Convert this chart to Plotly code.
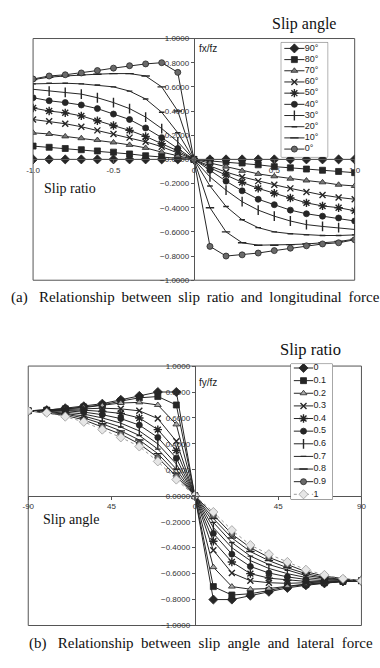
import plotly.graph_objects as go

# ---------------- data: (a) slip ratio vs longitudinal force ----------------
SLIP_RATIO = [-1.0, -0.9, -0.8, -0.7, -0.6, -0.5, -0.4, -0.3, -0.2, -0.1, 0.0,
              0.1, 0.2, 0.3, 0.4, 0.5, 0.6, 0.7, 0.8, 0.9, 1.0]
ANGLE_NAMES = ["90°", "80°", "70°", "60°", "50°", "40°", "30°", "20°", "10°", "0°"]

FX_90 = [0.0, 0.0, 0.0, 0.0, 0.0, 0.0, 0.0, 0.0, 0.0, 0.0, 0.0,
         0.0, 0.0, 0.0, 0.0, 0.0, 0.0, 0.0, 0.0, 0.0, 0.0]
FX_80 = [0.11, 0.10, 0.09, 0.08, 0.07, 0.06, 0.045, 0.03, 0.02, 0.01, 0.0,
         -0.01, -0.02, -0.03, -0.045, -0.06, -0.07, -0.08, -0.09, -0.10, -0.11]
FX_70 = [0.22, 0.21, 0.19, 0.175, 0.16, 0.14, 0.12, 0.095, 0.06, 0.03, 0.0,
         -0.03, -0.06, -0.095, -0.12, -0.14, -0.16, -0.175, -0.19, -0.21, -0.22]
FX_60 = [0.33, 0.315, 0.295, 0.27, 0.24, 0.21, 0.18, 0.145, 0.105, 0.055, 0.0,
         -0.055, -0.105, -0.145, -0.18, -0.21, -0.24, -0.27, -0.295, -0.315, -0.33]
FX_50 = [0.425, 0.40, 0.385, 0.36, 0.32, 0.28, 0.24, 0.19, 0.13, 0.07, 0.0,
         -0.07, -0.13, -0.19, -0.24, -0.28, -0.32, -0.36, -0.385, -0.40, -0.425]
FX_40 = [0.51, 0.485, 0.47, 0.45, 0.42, 0.375, 0.33, 0.26, 0.18, 0.09, 0.0,
         -0.09, -0.18, -0.26, -0.33, -0.375, -0.42, -0.45, -0.47, -0.485, -0.51]
FX_30 = [0.58, 0.565, 0.555, 0.54, 0.51, 0.47, 0.42, 0.35, 0.255, 0.145, 0.0,
         -0.145, -0.255, -0.35, -0.42, -0.47, -0.51, -0.54, -0.555, -0.565, -0.58]
FX_20 = [0.625, 0.63, 0.63, 0.625, 0.615, 0.60, 0.565, 0.50, 0.39, 0.22, 0.0,
         -0.22, -0.39, -0.50, -0.565, -0.60, -0.615, -0.625, -0.63, -0.63, -0.625]
FX_10 = [0.66, 0.68, 0.69, 0.70, 0.705, 0.71, 0.71, 0.69, 0.60, 0.40, 0.0,
         -0.40, -0.60, -0.69, -0.71, -0.71, -0.705, -0.70, -0.69, -0.68, -0.66]
FX_0 = [0.665, 0.69, 0.70, 0.715, 0.735, 0.755, 0.775, 0.79, 0.80, 0.72, 0.0,
        -0.72, -0.80, -0.79, -0.775, -0.755, -0.735, -0.715, -0.70, -0.69, -0.665]
FX_SERIES = [FX_90, FX_80, FX_70, FX_60, FX_50, FX_40, FX_30, FX_20, FX_10, FX_0]

X_TICKS_A = [-1.0, -0.5, 0.0, 0.5, 1.0]
X_TICKTEXT_A = ["-1.0", "-0.5", "0", "0.5", "1.0"]

# ---------------- data: (b) slip angle vs lateral force ----------------
SLIP_ANGLE = [-90, -80, -70, -60, -50, -40, -30, -20, -10, 0,
              10, 20, 30, 40, 50, 60, 70, 80, 90]
RATIO_NAMES = ["0", "0.1", "0.2", "0.3", "0.4", "0.5", "0.6", "0.7", "0.8", "0.9", "1"]

FY_00 = [0.655, 0.66, 0.675, 0.69, 0.71, 0.74, 0.77, 0.80, 0.80, 0.0,
         -0.80, -0.80, -0.77, -0.74, -0.71, -0.69, -0.675, -0.66, -0.655]
FY_01 = [0.655, 0.66, 0.67, 0.685, 0.70, 0.73, 0.755, 0.765, 0.70, 0.0,
         -0.70, -0.765, -0.755, -0.73, -0.70, -0.685, -0.67, -0.66, -0.655]
FY_02 = [0.655, 0.66, 0.67, 0.68, 0.695, 0.715, 0.72, 0.70, 0.55, 0.0,
         -0.55, -0.70, -0.72, -0.715, -0.695, -0.68, -0.67, -0.66, -0.655]
FY_03 = [0.655, 0.66, 0.665, 0.67, 0.675, 0.67, 0.655, 0.595, 0.42, 0.0,
         -0.42, -0.595, -0.655, -0.67, -0.675, -0.67, -0.665, -0.66, -0.655]
FY_04 = [0.655, 0.655, 0.66, 0.66, 0.65, 0.635, 0.60, 0.51, 0.35, 0.0,
         -0.35, -0.51, -0.60, -0.635, -0.65, -0.66, -0.66, -0.655, -0.655]
FY_05 = [0.655, 0.655, 0.655, 0.645, 0.625, 0.595, 0.545, 0.45, 0.29, 0.0,
         -0.29, -0.45, -0.545, -0.595, -0.625, -0.645, -0.655, -0.655, -0.655]
FY_06 = [0.655, 0.65, 0.645, 0.63, 0.60, 0.56, 0.50, 0.40, 0.245, 0.0,
         -0.245, -0.40, -0.50, -0.56, -0.60, -0.63, -0.645, -0.65, -0.655]
FY_07 = [0.655, 0.65, 0.635, 0.615, 0.575, 0.53, 0.465, 0.36, 0.205, 0.0,
         -0.205, -0.36, -0.465, -0.53, -0.575, -0.615, -0.635, -0.65, -0.655]
FY_08 = [0.655, 0.645, 0.63, 0.60, 0.555, 0.50, 0.43, 0.325, 0.175, 0.0,
         -0.175, -0.325, -0.43, -0.50, -0.555, -0.60, -0.63, -0.645, -0.655]
FY_09 = [0.655, 0.64, 0.62, 0.585, 0.53, 0.475, 0.40, 0.295, 0.15, 0.0,
         -0.15, -0.295, -0.40, -0.475, -0.53, -0.585, -0.62, -0.64, -0.655]
FY_10 = [0.655, 0.64, 0.61, 0.57, 0.51, 0.45, 0.38, 0.265, 0.125, 0.0,
         -0.125, -0.265, -0.38, -0.45, -0.51, -0.57, -0.61, -0.64, -0.655]
FY_SERIES = [FY_00, FY_01, FY_02, FY_03, FY_04, FY_05, FY_06, FY_07, FY_08, FY_09, FY_10]

X_TICKS_B = [-90, -45, 0, 45, 90]
X_TICKTEXT_B = ["-90", "45", "0", "45", "90"]

# ---------------- styles ----------------
INK = "#262626"
STYLE_A = [  # symbol, size, fill, dash
    ("diamond", 7, INK, "solid"),
    ("square", 6, INK, "solid"),
    ("triangle-up", 6, "#7a7a7a", "solid"),
    ("x-thin", 6, INK, "solid"),
    ("asterisk", 7, INK, "solid"),
    ("circle", 6, INK, "solid"),
    ("line-ns", 7, INK, "solid"),
    ("line-ew", 4, INK, "solid"),
    ("line-ew", 6, INK, "solid"),
    ("circle", 6, "#6a6a6a", "solid"),
]
STYLE_B = [
    ("diamond", 7, INK, "solid"),
    ("square", 6, INK, "solid"),
    ("triangle-up", 6, "#a8a8a8", "solid"),
    ("x-thin", 6, INK, "solid"),
    ("asterisk", 7, INK, "solid"),
    ("circle", 6, INK, "solid"),
    ("line-ns", 7, INK, "solid"),
    ("line-ew", 4, INK, "solid"),
    ("line-ew", 6, INK, "solid"),
    ("circle", 6, "#6a6a6a", "solid"),
    ("diamond", 7, "#e6e6e6", "dot"),
]

W, H = 380, 668


def px_x(p):
    return p / W


def px_y(p):
    return 1 - p / H


def marker_of(st):
    sym, size, fill, dash = st
    thin = sym in ("x-thin", "asterisk", "line-ns", "line-ew")
    lc = "#9a9a9a" if dash == "dot" else INK
    return dict(symbol=sym, size=size, color=fill,
                line=dict(color=lc, width=1.4 if thin else 0.8))


def line_of(st):
    dash = st[3]
    return dict(color="#9a9a9a" if dash == "dot" else INK, width=1.0, dash=dash)


fig = go.Figure()

# domains
XA = [px_x(27), px_x(360)]
YA = [px_y(280), px_y(35)]
XB = [px_x(22), px_x(367)]
YB = [px_y(630), px_y(367)]
LEG_A_X = [px_x(284), px_x(332)]
LEG_A_Y = [px_y(155), px_y(39)]
LEG_B_X = [px_x(294), px_x(337)]
LEG_B_Y = [px_y(502), px_y(365)]

for name, vals, st in zip(ANGLE_NAMES, FX_SERIES, STYLE_A):
    fig.add_trace(go.Scatter(x=SLIP_RATIO, y=vals, mode="lines+markers", name=name,
                             xaxis="x", yaxis="y", line=line_of(st), marker=marker_of(st),
                             showlegend=False))

for name, vals, st in zip(RATIO_NAMES, FY_SERIES, STYLE_B):
    fig.add_trace(go.Scatter(x=SLIP_ANGLE, y=vals, mode="lines+markers", name=name,
                             xaxis="x2", yaxis="y2", line=line_of(st), marker=marker_of(st),
                             showlegend=False))


# custom legends (index-based rows)
def add_legend(names, styles, xa, ya):
    for i, (name, st) in enumerate(zip(names, styles)):
        fig.add_trace(go.Scatter(x=[0, 1], y=[i, i], mode="lines", xaxis=xa, yaxis=ya,
                                 line=line_of(st), showlegend=False, hoverinfo="skip"))
        fig.add_trace(go.Scatter(x=[0.5], y=[i], mode="markers", xaxis=xa, yaxis=ya,
                                 marker=marker_of(st), showlegend=False, hoverinfo="skip"))
    fig.add_trace(go.Scatter(x=[1.02] * len(names), y=list(range(len(names))), mode="text",
                             text=names, textposition="middle right", xaxis=xa, yaxis=ya,
                             textfont=dict(family="Liberation Sans", size=9, color="#222"),
                             showlegend=False, hoverinfo="skip"))


add_legend(ANGLE_NAMES, STYLE_A, "x3", "y3")
add_legend(RATIO_NAMES, STYLE_B, "x4", "y4")

tickfont = dict(family="Liberation Sans", size=8, color="#333")
axline = "#555"

fig.update_layout(
    width=W, height=H, margin=dict(l=0, r=0, t=0, b=0),
    paper_bgcolor="white", plot_bgcolor="white", showlegend=False,
    xaxis=dict(domain=XA, range=[-1, 1], anchor="free", position=(YA[0] + YA[1]) / 2,
               showline=True, linecolor=axline, linewidth=1, ticks="outside", ticklen=3,
               tickcolor=axline, tickvals=X_TICKS_A, ticktext=X_TICKTEXT_A,
               tickfont=tickfont, showgrid=False, zeroline=False),
    yaxis=dict(domain=YA, range=[-1, 1], anchor="free", position=(XA[0] + XA[1]) / 2,
               showline=True, linecolor=axline, linewidth=1.2, ticks="outside", ticklen=3,
               tickcolor=axline, dtick=0.2, tick0=0, tickformat=".4f",
               tickfont=tickfont, showgrid=False, zeroline=False),
    xaxis2=dict(domain=XB, range=[-90, 90], anchor="free", position=(YB[0] + YB[1]) / 2,
                showline=True, linecolor=axline, linewidth=1, ticks="outside", ticklen=3,
                tickcolor=axline, tickvals=X_TICKS_B, ticktext=X_TICKTEXT_B,
                tickfont=tickfont, showgrid=False, zeroline=False),
    yaxis2=dict(domain=YB, range=[-1, 1], anchor="free", position=(XB[0] + XB[1]) / 2,
                showline=True, linecolor=axline, linewidth=1.2, ticks="outside", ticklen=3,
                tickcolor=axline, dtick=0.2, tick0=0, tickformat=".4f",
                tickfont=tickfont, showgrid=False, zeroline=False),
    xaxis3=dict(domain=LEG_A_X, range=[-0.15, 2.15], anchor="y3", visible=False),
    yaxis3=dict(domain=LEG_A_Y, range=[9.7, -0.53], anchor="x3", visible=False),
    xaxis4=dict(domain=LEG_B_X, range=[-0.15, 2.0], anchor="y4", visible=False),
    yaxis4=dict(domain=LEG_B_Y, range=[10.39, -0.31], anchor="x4", visible=False),
)

frame = dict(color="#555", width=1)
for xr, yr in (("x domain", "y domain"), ("x2 domain", "y2 domain"),
               ("x3 domain", "y3 domain"), ("x4 domain", "y4 domain")):
    fig.add_shape(type="rect", xref=xr, yref=yr, x0=0, x1=1, y0=0, y1=1,
                  line=frame, fillcolor="rgba(0,0,0,0)", layer="below")

serif = "Liberation Serif"
sans = "Liberation Sans"
NB = "\u00a0"
GAP_A = NB + "\u2009"
GAP_B = NB * 2


def cap(label, words, gap):
    return label + NB * 3 + gap.join(words)


annos = [
    dict(text="Slip angle", x=px_x(308), y=px_y(20), font=dict(family=serif, size=16, color="#111")),
    dict(text="fx/fz", x=px_x(197), y=px_y(45), xanchor="left", font=dict(family=sans, size=10, color="#222")),
    dict(text="Slip ratio", x=px_x(65), y=px_y(187), font=dict(family=serif, size=14, color="#111")),
    dict(text=cap("(a)", "Relationship between slip ratio and longitudinal force".split(), GAP_A),
         x=px_x(2), y=px_y(298), xanchor="left", font=dict(family=serif, size=15, color="#111")),
    dict(text="Slip ratio", x=px_x(314), y=px_y(350), font=dict(family=serif, size=16.5, color="#111")),
    dict(text="fy/fz", x=px_x(197), y=px_y(384), xanchor="left", font=dict(family=sans, size=10, color="#222")),
    dict(text="Slip angle", x=px_x(66), y=px_y(523), font=dict(family=serif, size=14, color="#111")),
    dict(text=cap("(b)", "Relationship between slip angle and lateral force".split(), GAP_B),
         x=px_x(21), y=px_y(648), xanchor="left", font=dict(family=serif, size=15, color="#111")),
]
for a in annos:
    a.setdefault("xanchor", "center")
    fig.add_annotation(xref="paper", yref="paper", showarrow=False, yanchor="middle", **a)

fig.write_html("out.html", config={"displayModeBar": False},
               post_script="document.body.style.margin='0';")
